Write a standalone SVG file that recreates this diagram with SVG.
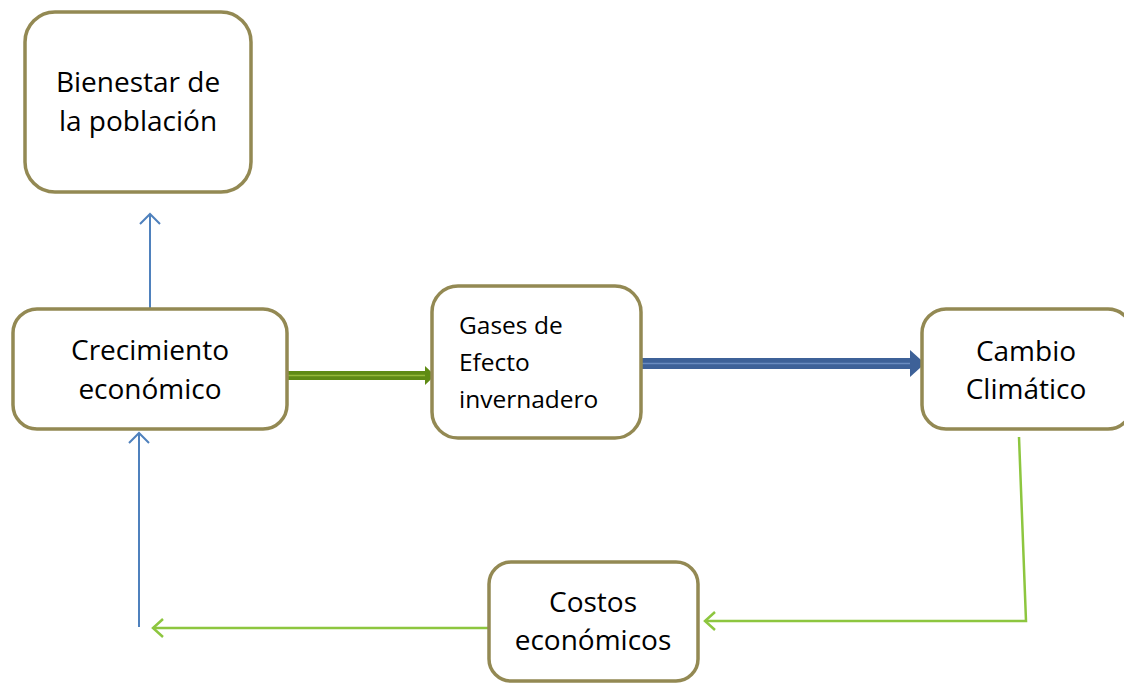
<svg xmlns="http://www.w3.org/2000/svg" width="1124" height="685" viewBox="0 0 1124 685">
<style>
.box{fill:#fff;stroke:#938953;stroke-width:3.5}
.t{font-family:"Open Sans","DejaVu Sans",sans-serif;font-size:28px;fill:#000;text-anchor:middle}
.ts{font-family:"Open Sans","DejaVu Sans",sans-serif;font-size:24.5px;fill:#000}
.blue{stroke:#4f81bd;stroke-width:2;fill:none}
.lg{stroke:#8dc63f;stroke-width:2.5;fill:none}
</style>
<defs>
<marker id="openBlue" markerWidth="24" markerHeight="24" refX="12" refY="12" orient="auto" markerUnits="userSpaceOnUse">
<path d="M2,2 L12,12 L2,22" fill="none" stroke="#4f81bd" stroke-width="2"/>
</marker>
<marker id="openGreen" markerWidth="24" markerHeight="24" refX="12" refY="12" orient="auto" markerUnits="userSpaceOnUse">
<path d="M2,3 L12,12 L2,21" fill="none" stroke="#8dc63f" stroke-width="2.5"/>
</marker>
</defs>
<g id="connectors">
<line class="blue" x1="150" y1="309" x2="150" y2="214" marker-end="url(#openBlue)"/>
<line class="blue" x1="139" y1="627" x2="139" y2="433" marker-end="url(#openBlue)"/>
<line class="lg" x1="489" y1="628" x2="153" y2="628" marker-end="url(#openGreen)"/>
<polyline class="lg" points="1019,437 1026,621 705,621" marker-end="url(#openGreen)"/>
<g id="arrow-green">
<rect x="288" y="371" width="138" height="9" fill="#5f8b14"/>
<line x1="288" y1="375.5" x2="428" y2="375.5" stroke="#94b93a" stroke-width="1.5"/>
<polygon points="425,366 435,375.5 425,385" fill="#5f8b14"/>
</g>
<g id="arrow-blue">
<rect x="637" y="358" width="275" height="11" fill="#3d6198"/>
<line x1="637" y1="363.5" x2="915" y2="363.5" stroke="#6a8cc0" stroke-width="1.5"/>
<polygon points="910,350 925,363.5 910,377" fill="#3d6198"/>
</g>
</g>
<g id="bienestar">
<rect class="box" x="25" y="12" width="226" height="180" rx="30"/>
<text class="t" x="138" y="92">Bienestar de</text>
<text class="t" x="138" y="131">la población</text>
</g>
<g id="crecimiento">
<rect class="box" x="13" y="309" width="274" height="120" rx="24"/>
<text class="t" x="150" y="360">Crecimiento</text>
<text class="t" x="150" y="399">económico</text>
</g>
<g id="gases">
<rect class="box" x="432" y="286" width="209" height="152" rx="26"/>
<text class="ts" x="459" y="334">Gases de</text>
<text class="ts" x="459" y="371">Efecto</text>
<text class="ts" x="459" y="408">invernadero</text>
</g>
<g id="cambio">
<rect class="box" x="922" y="309" width="210" height="120" rx="24"/>
<text class="t" x="1026" y="361">Cambio</text>
<text class="t" x="1026" y="399">Climático</text>
</g>
<g id="costos">
<rect class="box" x="489" y="562" width="209" height="119" rx="22"/>
<text class="t" x="593" y="612">Costos</text>
<text class="t" x="593" y="650">económicos</text>
</g>
</svg>
